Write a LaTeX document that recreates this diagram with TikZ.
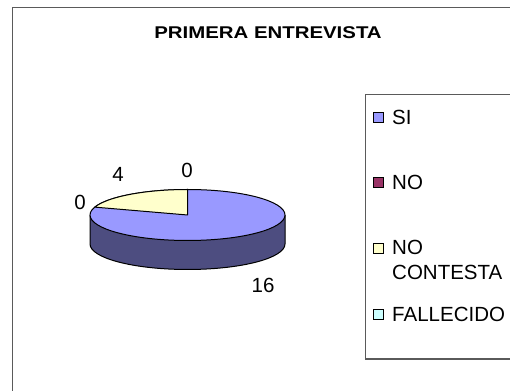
\documentclass[tikz,border=0pt]{standalone}
\usepackage{fontspec}
\setmainfont{Liberation Sans}
\newfontfamily\titlefont[FakeStretch=1.2]{Liberation Sans}
\definecolor{xlblue}{RGB}{153,153,255}
\definecolor{xlside}{RGB}{77,77,128}
\definecolor{xlwine}{RGB}{153,51,102}
\definecolor{xlcream}{RGB}{255,255,204}
\definecolor{xlcyan}{RGB}{204,255,255}
\definecolor{xlframe}{RGB}{90,90,90}
\tikzset{
  lbl/.style={font=\fontsize{20.5}{25}\selectfont, inner sep=0pt},
  keybox/.style={draw=black, line width=0.9pt},
  slice/.style={draw=black, line width=1pt, line join=round}
}

\begin{document}
\begin{tikzpicture}[x=1pt, y=1pt]
\useasboundingbox (0,0) rectangle (510,390);
\clip (0,0) rectangle (510,390);
\fill[white] (0,0) rectangle (510,390);
% outer frame
\draw[xlframe, line width=1.2pt] (12.5,-10) |- (520,382.5);
\node[font=\titlefont\bfseries\fontsize{17}{20}\selectfont] (title) at (268,357) {PRIMERA ENTREVISTA};

% pie - side first
\coordinate (c) at (187.5,175);
\fill[xlside] (90,175) -- (90,146) arc[start angle=180, end angle=360, x radius=97.5, y radius=25.5]
  -- (285,175) arc[start angle=0, end angle=-180, x radius=97.5, y radius=25.5] -- cycle;
\draw[slice] (90,175) -- (90,146) arc[start angle=180, end angle=360, x radius=97.5, y radius=25.5] -- (285,175);
% top face
\filldraw[slice, fill=xlblue] (c) ellipse[x radius=97.5, y radius=25.5];
\filldraw[slice, fill=xlcream] (c) -- (187.5,200.5)
  arc[start angle=90, end angle=162, x radius=97.5, y radius=25.5] -- cycle;

% values
\node[lbl] (vsi) at (263,105) {16};
\node[lbl] (vnc) at (118,216) {4};
\node[lbl] (vno) at (80,188) {0};
\node[lbl] (vfa) at (187,220) {0};

% legend
\draw[xlframe, line width=1.2pt] (365.5,31) rectangle (520,295.5);
\foreach \name/\col/\y in {si/xlblue/273, no/xlwine/208, nc/xlcream/142, fa/xlcyan/76} {
  \filldraw[keybox, fill=\col] (373,\y-5) rectangle (383,\y+5);
}
\node[lbl, anchor=west] (ksi) at (392,273) {SI};
\node[lbl, anchor=west] (kno) at (392,208) {NO};
\node[lbl, anchor=north west, align=left] (knc) at (392,150) {NO\\CONTESTA};
\node[lbl, anchor=west] (kfa) at (392,76) {FALLECIDO};
\end{tikzpicture}
\end{document}
